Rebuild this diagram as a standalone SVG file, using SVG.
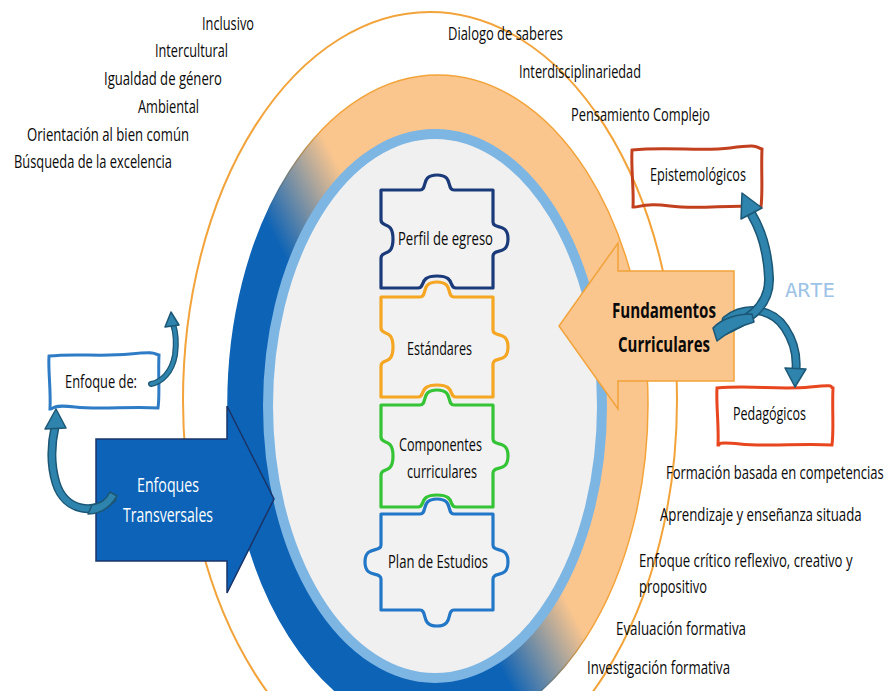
<svg xmlns="http://www.w3.org/2000/svg" width="887" height="691" viewBox="0 0 887 691">
<defs>
<linearGradient id="ringGrad" gradientUnits="userSpaceOnUse" x1="377" y1="433" x2="457" y2="391">
<stop offset="0" stop-color="#0D63B6"/>
<stop offset="1" stop-color="#FBC68E"/>
</linearGradient>
<linearGradient id="ringStroke" gradientUnits="userSpaceOnUse" x1="377" y1="433" x2="457" y2="391">
<stop offset="0" stop-color="#0D63B6"/>
<stop offset="1" stop-color="#F2A33A"/>
</linearGradient>
</defs>
<style>
.t{font-family:"Open Sans",Lato,"Liberation Sans",sans-serif;font-size:18px;fill:#0A0A0A;}
.pc{fill:#F2F2F2;stroke-width:3.2;stroke-linejoin:round;}
.box{fill:none;stroke-width:3;}
.cur{fill:none;stroke:#1C5775;stroke-linecap:round;}
.cin{fill:none;stroke:#2E84AC;stroke-linecap:round;}
.head{fill:#2E84AC;stroke:#1C5775;stroke-width:1.5;stroke-linejoin:round;}
</style>
<rect width="887" height="691" fill="#FFFFFF"/>

<g id="rings">
<ellipse cx="430" cy="400" rx="247" ry="388" fill="none" stroke="#F2A33A" stroke-width="2"/>
<ellipse cx="438" cy="404" rx="210" ry="329" fill="url(#ringGrad)" stroke="url(#ringStroke)" stroke-width="1.5"/>
<ellipse cx="435" cy="406" rx="167" ry="272" fill="#F0F0F0" stroke="#7DB5E3" stroke-width="10"/>
</g>

<g id="node-perfil">
<path class="pc" stroke="#1B3A7A" d="M 381 190 H 420 C 428 190, 420 175, 437 175 C 454 175, 446 190, 454 190 H 493 V 222 C 493 230, 508 222, 508 239 C 508 256, 493 248, 493 256 V 288 H 456 C 448 288, 456 276, 437 276 C 418 276, 426 288, 418 288 H 381 V 258 C 381 250, 393 258, 393 239 C 393 220, 381 228, 381 220 Z"/>
<text class="t" x="398" y="245" textLength="95" lengthAdjust="spacingAndGlyphs">Perfil de egreso</text>
</g>
<g id="node-estandares">
<path class="pc" stroke="#F5A623" d="M 381 297 H 420 C 428 297, 420 282, 437 282 C 454 282, 446 297, 454 297 H 493 V 330 C 493 338, 508 330, 508 347 C 508 364, 493 356, 493 364 V 397 H 456 C 448 397, 456 385, 437 385 C 418 385, 426 397, 418 397 H 381 V 366 C 381 358, 393 366, 393 347 C 393 328, 381 336, 381 328 Z"/>
<text class="t" x="407" y="355" textLength="65" lengthAdjust="spacingAndGlyphs">Estándares</text>
</g>
<g id="node-componentes">
<path class="pc" stroke="#35C435" d="M 381 405 H 420 C 428 405, 420 390, 437 390 C 454 390, 446 405, 454 405 H 493 V 439 C 493 447, 508 439, 508 456 C 508 473, 493 465, 493 473 V 507 H 456 C 448 507, 456 495, 437 495 C 418 495, 426 507, 418 507 H 381 V 475 C 381 467, 393 475, 393 456 C 393 437, 381 445, 381 437 Z"/>
<text class="t" x="399" y="451" textLength="83" lengthAdjust="spacingAndGlyphs">Componentes</text>
<text class="t" x="407" y="478" textLength="70" lengthAdjust="spacingAndGlyphs">curriculares</text>
</g>
<g id="node-plan">
<path class="pc" stroke="#2377C7" d="M 381 514 H 420 C 428 514, 420 499, 437 499 C 454 499, 446 514, 454 514 H 493 V 545 C 493 553, 508 545, 508 562 C 508 579, 493 571, 493 579 V 610 H 454 C 446 610, 454 626, 437 626 C 420 626, 428 610, 420 610 H 381 V 579 C 381 571, 365 579, 365 562 C 365 545, 381 553, 381 545 Z"/>
<text class="t" x="388" y="568" textLength="100" lengthAdjust="spacingAndGlyphs">Plan de Estudios</text>
</g>

<g id="node-enfoques-transversales">
<polygon points="96,439 227,439 227,406 274,499 227,593 227,561 96,561" fill="#0C63B7" stroke="#1B3468" stroke-width="1.5"/>
<text class="t" x="137" y="492" style="fill:#FFFFFF;font-size:20px" textLength="62" lengthAdjust="spacingAndGlyphs">Enfoques</text>
<text class="t" x="123" y="522" style="fill:#FFFFFF;font-size:20px" textLength="90" lengthAdjust="spacingAndGlyphs">Transversales</text>
</g>

<g id="node-fundamentos">
<polygon points="734,271 618,271 618,243 559,326 618,409 618,381 734,381" fill="#FAC68E" stroke="#F2A33A" stroke-width="1.5"/>
<text class="t" x="612" y="318" style="font-size:22px;font-weight:bold" textLength="104" lengthAdjust="spacingAndGlyphs">Fundamentos</text>
<text class="t" x="618" y="352" style="font-size:22px;font-weight:bold" textLength="92" lengthAdjust="spacingAndGlyphs">Curriculares</text>
</g>

<g id="node-epistemologicos">
<path class="box" stroke="#C3401F" d="M 632 150 C 670 146, 700 152, 730 148 S 755 147, 762 149 C 761 170, 763 190, 761 207 C 730 204, 700 210, 670 206 S 640 208, 633 207 C 634 190, 631 170, 632 150 Z"/>
<text class="t" x="650" y="181" textLength="96" lengthAdjust="spacingAndGlyphs">Epistemológicos</text>
</g>
<g id="node-pedagogicos">
<path class="box" stroke="#E8461E" d="M 717 388 C 750 385, 780 390, 810 387 S 828 387, 833 388 C 832 410, 834 430, 832 445 C 800 443, 770 447, 740 444 S 722 446, 718 445 C 719 425, 716 405, 717 388 Z"/>
<text class="t" x="733" y="420" textLength="73" lengthAdjust="spacingAndGlyphs">Pedagógicos</text>
</g>
<g id="node-enfoque-de">
<path class="box" stroke="#2E7CC6" d="M 49 356 C 75 353, 100 357, 130 354 S 152 354, 159 355 C 158 375, 160 395, 158 408 C 130 406, 100 410, 75 407 S 55 409, 50 409 C 51 390, 48 370, 49 356 Z"/>
<text class="t" x="65" y="388" textLength="72" lengthAdjust="spacingAndGlyphs">Enfoque de:</text>
</g>

<g id="connectors">
<path class="cur" stroke-width="9" d="M 726 320 C 745 305, 772 308, 785 328 C 793 340, 797 355, 796 369"/>
<path class="cin" stroke-width="6" d="M 726 320 C 745 305, 772 308, 785 328 C 793 340, 797 355, 796 369"/>
<polygon class="head" points="795,387 785,368 806,369"/>
<path class="cur" stroke-width="10" d="M 720 332 C 745 322, 770 308, 769 278 C 768 255, 762 232, 752 215"/>
<path class="cin" stroke-width="7" d="M 720 332 C 745 322, 770 308, 769 278 C 768 255, 762 232, 752 215"/>
<polygon class="head" points="742,193 762,208 741,219"/>
<path class="head" d="M 713 328 C 722 318, 738 314, 752 314 L 754 322 C 740 326, 728 332, 717 341 Z"/>

<path class="cur" stroke-width="9" d="M 112 499 C 95 515, 65 512, 56 483 C 50 463, 51 445, 55 427"/>
<path class="cin" stroke-width="6" d="M 112 499 C 95 515, 65 512, 56 483 C 50 463, 51 445, 55 427"/>
<polygon class="head" points="56,409 45,429 66,428"/>
<path class="head" d="M 117 496 C 110 508, 100 514, 88 514 L 92 505 C 100 504, 106 500, 110 492 Z"/>

<path class="cur" stroke-width="6" d="M 151 384 C 162 382, 172 372, 175 355 C 177 340, 175 330, 173 324"/>
<path class="cin" stroke-width="3.5" d="M 151 384 C 162 382, 172 372, 175 355 C 177 340, 175 330, 173 324"/>
<polygon class="head" points="171,312 165,327 179,325"/>
</g>

<g id="labels-transversales">
<text class="t" x="202" y="30" textLength="52" lengthAdjust="spacingAndGlyphs">Inclusivo</text>
<text class="t" x="155" y="57" textLength="73" lengthAdjust="spacingAndGlyphs">Intercultural</text>
<text class="t" x="104" y="85" textLength="118" lengthAdjust="spacingAndGlyphs">Igualdad de género</text>
<text class="t" x="138" y="113" textLength="61" lengthAdjust="spacingAndGlyphs">Ambiental</text>
<text class="t" x="27" y="141" textLength="162" lengthAdjust="spacingAndGlyphs">Orientación al bien común</text>
<text class="t" x="14" y="168" textLength="158" lengthAdjust="spacingAndGlyphs">Búsqueda de la excelencia</text>
</g>
<g id="labels-epistemologicos">
<text class="t" x="448" y="40" textLength="115" lengthAdjust="spacingAndGlyphs">Dialogo de saberes</text>
<text class="t" x="519" y="78" textLength="122" lengthAdjust="spacingAndGlyphs">Interdisciplinariedad</text>
<text class="t" x="571" y="121" textLength="139" lengthAdjust="spacingAndGlyphs">Pensamiento Complejo</text>
</g>
<text x="785" y="297" style="font-family:'DejaVu Sans Mono','Liberation Mono',monospace;font-size:19px;fill:#9DC3E6" textLength="50" lengthAdjust="spacingAndGlyphs">ARTE</text>
<g id="labels-pedagogicos">
<text class="t" transform="translate(666,479) scale(0.7,1)" x="0" y="0" textLength="311" lengthAdjust="spacingAndGlyphs">Formación basada en competencias</text>
<text class="t" transform="translate(660,521) scale(0.7,1)" x="0" y="0" textLength="288" lengthAdjust="spacingAndGlyphs">Aprendizaje y enseñanza situada</text>
<text class="t" transform="translate(639,567) scale(0.7,1)" x="0" y="0" textLength="305" lengthAdjust="spacingAndGlyphs">Enfoque crítico reflexivo, creativo y</text>
<text class="t" x="639" y="593" textLength="68" lengthAdjust="spacingAndGlyphs">propositivo</text>
<text class="t" x="616" y="635" textLength="130" lengthAdjust="spacingAndGlyphs">Evaluación formativa</text>
<text class="t" x="587" y="674" textLength="143" lengthAdjust="spacingAndGlyphs">Investigación formativa</text>
</g>
</svg>
